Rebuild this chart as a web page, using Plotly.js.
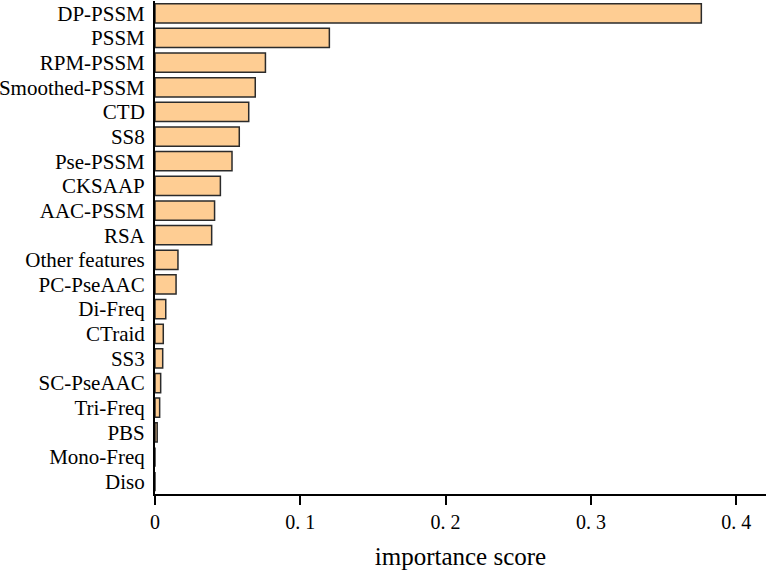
<!DOCTYPE html>
<html>
<head>
<meta charset="utf-8">
<script src="https://cdn.plot.ly/plotly-3.0.1.min.js"></script>
<style>html,body{margin:0;padding:0;background:#fff;}#chart{width:768px;height:570px;}</style>
</head>
<body>
<div id="chart"></div>
<script>
const features = ["DP-PSSM","PSSM","RPM-PSSM","Smoothed-PSSM","CTD","SS8","Pse-PSSM","CKSAAP","AAC-PSSM","RSA","Other features","PC-PseAAC","Di-Freq","CTraid","SS3","SC-PseAAC","Tri-Freq","PBS","Mono-Freq","Diso"];
const scores = [0.376,0.120,0.076,0.069,0.0645,0.058,0.053,0.045,0.041,0.039,0.0158,0.0145,0.0074,0.0057,0.0053,0.0039,0.0032,0.0015,0,0];
const tickValues = [0,0.1,0.2,0.3,0.4];
const tickLabels = ["0","0. 1","0. 2","0. 3","0. 4"];

const font = "Liberation Serif, Times New Roman, serif";
Plotly.newPlot("chart", [{
  type: "bar",
  orientation: "h",
  x: scores,
  y: features,
  marker: {color: "#FECD93", line: {color: "#2b2b2b", width: 1.5}},
  hoverinfo: "x+y"
}], {
  width: 768, height: 570,
  margin: {l: 155, r: 2, t: 1, b: 76},
  paper_bgcolor: "#fff", plot_bgcolor: "#fff",
  bargap: 0.22,
  showlegend: false,
  font: {family: font, color: "#000"},
  xaxis: {
    range: [0, 0.4205],
    tickvals: tickValues, ticktext: tickLabels,
    ticks: "outside", ticklen: 9, tickwidth: 2, tickcolor: "#000",
    showline: true, linecolor: "#000", linewidth: 2,
    showgrid: false, zeroline: false,
    tickfont: {size: 20, family: font, color: "#000"},
    title: {text: "importance score", font: {size: 25, family: font, color: "#000"}, standoff: 16}
  },
  yaxis: {
    type: "category",
    categoryorder: "array", categoryarray: features,
    tickmode: "array", tickvals: features, ticktext: features,
    autorange: "reversed",
    showline: true, linecolor: "#000", linewidth: 2,
    showgrid: false, zeroline: false, ticks: "",
    ticklabelstandoff: 4,
    tickfont: {size: 21, family: font, color: "#000"}
  }
}, {displayModeBar: false});
</script>
</body>
</html>
